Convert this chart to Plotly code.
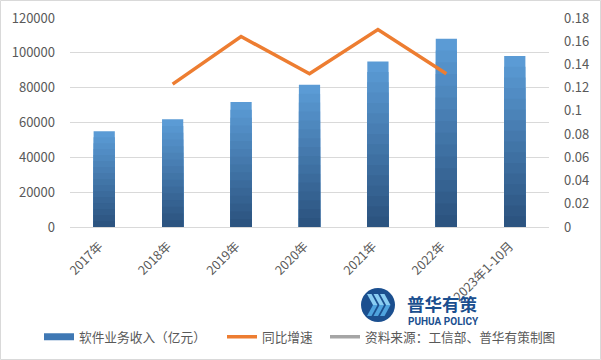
import plotly.graph_objects as go

categories = ["2017年", "2018年", "2019年", "2020年", "2021年", "2022年", "2023年1-10月"]
revenue = [55037, 61909, 71768, 81616, 94994, 108126, 98176]
growth = [None, 0.123, 0.164, 0.132, 0.170, 0.132, None]
left_ticks = [0, 20000, 40000, 60000, 80000, 100000, 120000]
left_tick_text = ["0", "20000", "40000", "60000", "80000", "100000", "120000"]
right_ticks = [0, 0.02, 0.04, 0.06, 0.08, 0.1, 0.12, 0.14, 0.16, 0.18]
right_tick_text = ["0", "0.02", "0.04", "0.06", "0.08", "0.1", "0.12", "0.14", "0.16", "0.18"]
legend_names = ["软件业务收入（亿元）", "同比增速", "资料来源：工信部、普华有策制图"]

FONT = "Noto Sans CJK SC, Noto Sans, sans-serif"
GREY = "#595959"

fig = go.Figure()

# gradient bars: light top -> dark bottom, layered overlays
light = (91, 155, 213)
dark = (44, 84, 128)
N = 16
for k in range(N):
    frac = 1 - k / N
    t = k / (N - 1)
    c = tuple(int(light[i] + (dark[i] - light[i]) * t) for i in range(3))
    fig.add_trace(go.Bar(
        x=categories, y=[v * frac for v in revenue],
        marker=dict(color="rgb(%d,%d,%d)" % c, line=dict(width=0)),
        showlegend=False, name=legend_names[0],
        hoverinfo="skip" if k else None, yaxis="y",
    ))

# legend entry for bars (wide rectangle swatch)
fig.add_trace(go.Scatter(
    x=[None], y=[None], mode="lines", name=legend_names[0],
    line=dict(color="#3F78B4", width=7), legend="legend",
))
fig.add_trace(go.Scatter(
    x=categories, y=growth, mode="lines", name=legend_names[1],
    line=dict(color="#ED7D31", width=3.5), yaxis="y2", connectgaps=False,
    legend="legend2",
))
fig.add_trace(go.Scatter(
    x=[None], y=[None], mode="lines", name=legend_names[2],
    line=dict(color="#A5A5A5", width=3.5), yaxis="y2", legend="legend3",
))

W, H = 601, 360
L, R, T, B = 70, 52, 18, 133
pw, ph = W - L - R, H - T - B

def px(x):
    return (x - L) / pw

def py(y):
    return (H - B - y) / ph

def leg(xpix):
    return dict(
        orientation="h", x=px(xpix), xanchor="left", y=py(337), yanchor="middle",
        font=dict(size=12.7, color=GREY, family=FONT), bgcolor="rgba(0,0,0,0)",
        itemwidth=30, borderwidth=0,
    )

fig.update_layout(
    width=W, height=H,
    margin=dict(l=L, r=R, t=T, b=B, autoexpand=False),
    paper_bgcolor="white", plot_bgcolor="white",
    barmode="overlay", bargap=0.69,
    font=dict(family=FONT, size=12, color=GREY),
    xaxis=dict(
        type="category", tickangle=-45, showgrid=False, automargin=False,
        showline=True, linecolor="#D9D9D9", linewidth=1,
        ticks="", tickfont=dict(size=12.5, color=GREY),
        ticklabelstandoff=6, ticklabelshift=-5,
    ),
    yaxis=dict(
        range=[0, 120000], tickvals=left_ticks, ticktext=left_tick_text,
        showgrid=True, automargin=False,
        gridcolor="#D9D9D9", gridwidth=1, zeroline=False, showline=False,
        tickfont=dict(size=13, color=GREY), ticklabelstandoff=14,
    ),
    yaxis2=dict(
        range=[0, 0.18], overlaying="y", side="right", automargin=False,
        tickvals=right_ticks, ticktext=right_tick_text, showgrid=False,
        zeroline=False, showline=False,
        tickfont=dict(size=13, color=GREY), ticklabelstandoff=14,
    ),
    legend=leg(39),
    legend2=leg(222),
    legend3=leg(325),
    showlegend=True,
)

# outer border
fig.add_shape(type="rect", xref="paper", yref="paper",
              x0=px(0.5), x1=px(W - 0.5), y0=py(H - 0.5), y1=py(0.5),
              line=dict(color="#D9D9D9", width=1), fillcolor="rgba(0,0,0,0)", layer="below")

# watermark logo
fig.add_shape(type="circle", xref="paper", yref="paper",
              x0=px(361), x1=px(395), y0=py(322), y1=py(288),
              fillcolor="#1B4F8F", line=dict(width=0), layer="above")
for dx in (0, 6.5, 13):
    fig.add_shape(type="path", xref="paper", yref="paper",
                  path="M %f %f L %f %f L %f %f L %f %f Z" % (
                      px(367 + dx), py(294), px(371.5 + dx), py(294),
                      px(377.5 + dx), py(305), px(373 + dx), py(305)),
                  fillcolor="#8ACDF2", line=dict(width=0), layer="above")
    fig.add_shape(type="path", xref="paper", yref="paper",
                  path="M %f %f L %f %f L %f %f L %f %f Z" % (
                      px(373 + dx), py(305), px(377.5 + dx), py(305),
                      px(371.5 + dx), py(316), px(367 + dx), py(316)),
                  fillcolor="#4FA3DE", line=dict(width=0), layer="above")
fig.add_annotation(text="<b>普华有策</b>", xref="paper", yref="paper",
                   x=px(405), y=py(303), xanchor="left", yanchor="middle",
                   showarrow=False, font=dict(size=17.5, color="#1B4F8F", family=FONT))
fig.add_annotation(text="<b>PUHUA POLICY</b>", xref="paper", yref="paper",
                   x=px(406), y=py(321.5), xanchor="left", yanchor="middle",
                   showarrow=False, font=dict(size=10, color="#1B4F8F", family="Roboto, sans-serif"))

fig.write_html("out.html", config={"displayModeBar": False},
               post_script="document.body.style.margin='0';")
